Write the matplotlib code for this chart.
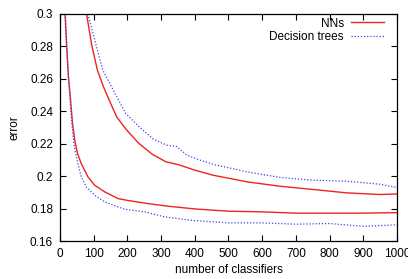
import matplotlib
matplotlib.use("Agg")
import matplotlib.pyplot as plt

# NNs (red, solid) - upper and lower curves
nn_upper_n = [79, 94, 111, 129, 146, 168, 198, 234, 274, 314, 353, 400, 454, 555, 653, 751, 851, 950, 1000]
nn_upper_e = [0.300, 0.2810, 0.2654, 0.2551, 0.2469, 0.2366, 0.2284, 0.2202, 0.2135, 0.2089, 0.2070, 0.2037,
              0.2006, 0.1965, 0.1938, 0.1918, 0.1897, 0.1887, 0.1890]
nn_lower_n = [15, 20, 25, 31, 37, 44, 52, 63, 83, 103, 133, 172, 202, 261, 320, 400, 500, 600, 700, 800, 900, 1000]
nn_lower_e = [0.300, 0.2798, 0.2613, 0.2480, 0.2330, 0.2220, 0.2140, 0.2078, 0.1996, 0.1944, 0.1903, 0.1862,
              0.1850, 0.1831, 0.1815, 0.1798, 0.1784, 0.1780, 0.1772, 0.1772, 0.1772, 0.1775]

# Decision trees (blue, dotted) - upper and lower curves
dt_upper_n = [83, 107, 127, 158, 195, 235, 277, 317, 346, 376, 415, 460, 555, 653, 751, 851, 950, 1000]
dt_upper_e = [0.300, 0.2810, 0.2654, 0.2531, 0.2387, 0.2304, 0.2228, 0.2191, 0.2183, 0.2130, 0.2099, 0.2070,
              0.2027, 0.1992, 0.1975, 0.1969, 0.1950, 0.1930]
dt_lower_n = [16, 20, 25, 30, 35, 41, 53, 63, 78, 103, 133, 172, 192, 251, 311, 370, 400, 500, 600, 700, 800, 900, 1000]
dt_lower_e = [0.300, 0.2798, 0.2613, 0.2470, 0.2330, 0.2200, 0.2078, 0.1996, 0.1934, 0.1883, 0.1841, 0.1811, 0.1796,
              0.1780, 0.1749, 0.1733, 0.1726, 0.1712, 0.1712, 0.1704, 0.1708, 0.1691, 0.1700]

x_ticks = [0, 100, 200, 300, 400, 500, 600, 700, 800, 900, 1000]
y_ticks = [0.16, 0.18, 0.2, 0.22, 0.24, 0.26, 0.28, 0.3]
y_ticklabels = ["0.16", "0.18", "0.2", "0.22", "0.24", "0.26", "0.28", "0.3"]

plt.rcParams['font.family'] = ['Liberation Sans', 'DejaVu Sans']
fs = 8.5

fig = plt.figure(figsize=(4.08, 2.79), dpi=100)
ax = fig.add_axes([0.147, 0.136, 0.826, 0.814])

red = '#ee2222'
blue = '#4444ee'
ax.plot(nn_upper_n, nn_upper_e, color=red, lw=1.0, label='NNs')
ax.plot(nn_lower_n, nn_lower_e, color=red, lw=1.0)
ax.plot(dt_upper_n, dt_upper_e, color=blue, lw=0.9, ls=(0, (1, 1.5)), label='Decision trees')
ax.plot(dt_lower_n, dt_lower_e, color=blue, lw=0.9, ls=(0, (1, 1.5)))

ax.set_xlim(0, 1000)
ax.set_ylim(0.16, 0.3)
ax.set_xticks(x_ticks)
ax.set_yticks(y_ticks)
ax.set_yticklabels(y_ticklabels)
ax.tick_params(direction='in', top=True, right=True, length=4, width=0.8, labelsize=fs, pad=5)
for s in ax.spines.values():
    s.set_linewidth(0.9)

ax.set_xlabel('number of classifiers', fontsize=fs, labelpad=3)
ax.set_ylabel('error', fontsize=fs, labelpad=7)

leg = ax.legend(loc='upper right', bbox_to_anchor=(0.975, 1.005), frameon=False, markerfirst=False,
                fontsize=fs, handlelength=2.8, borderaxespad=0.0, labelspacing=0.1, handletextpad=0.6)

fig.savefig('out.png', dpi=100)
